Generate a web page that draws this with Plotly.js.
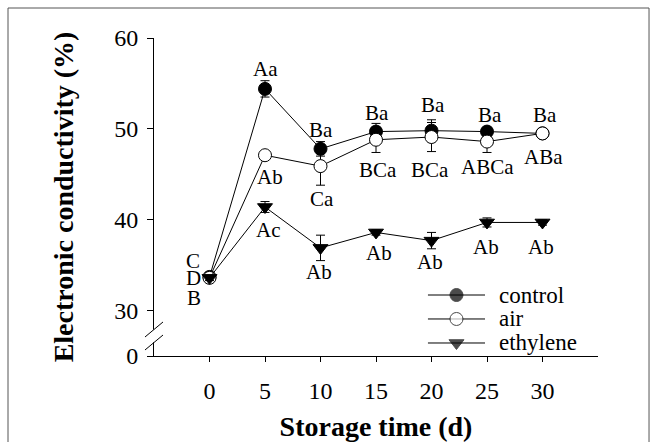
<!DOCTYPE html>
<html>
<head>
<meta charset="utf-8">
<script src="https://cdn.plot.ly/plotly-3.0.1.min.js"></script>
<style>
  html, body { margin: 0; padding: 0; background: #ffffff; }
  #chart { width: 657px; height: 442px; }
</style>
</head>
<body>
<div id="chart"></div>
<script>
// ---- data ----
const days = [0, 5, 10, 15, 20, 25, 30];

const control    = [33.7, 54.4, 47.8, 49.7, 49.8, 49.7, 49.5];
const controlErr = [0.3, 0.9, 0.8, 0.9, 1.2, 0.5, 0.3];

const air    = [33.6, 47.1, 45.9, 48.8, 49.1, 48.6, 49.5];
const airErr = [0.3, 0.4, 2.1, 1.4, 1.6, 1.2, 0.3];

const ethylene    = [33.6, 41.4, 36.9, 38.6, 37.7, 39.7, 39.7];
const ethyleneErr = [0.3, 0.6, 1.4, 0.3, 0.9, 0.5, 0.3];

// significance letters
const controlLetters  = ["C", "Aa", "Ba", "Ba", "Ba", "Ba", "Ba"];
const airLetters      = ["D", "Ab", "Ca", "BCa", "BCa", "ABCa", "ABa"];
const ethyleneLetters = ["B", "Ac", "Ab", "Ab", "Ab", "Ab", "Ab"];

// letter label anchor points (data units)
const controlLabelX  = [-1.45, 5.0, 10.0, 15.1, 20.1, 25.3, 30.2];
const controlLabelY  = [35.5, 56.6, 49.9, 51.7, 52.6, 51.5, 51.5];
const airLabelX      = [-1.45, 5.45, 10.1, 15.2, 19.9, 25.0, 30.1];
const airLabelY      = [33.6, 44.7, 42.3, 45.5, 45.5, 45.8, 46.9];
const ethyleneLabelX = [-1.4, 5.3, 9.9, 15.3, 19.9, 24.9, 29.9];
const ethyleneLabelY = [31.4, 38.9, 34.2, 36.3, 35.3, 37.0, 37.0];

// y-axis ticks (axis is broken between 0 and 30)
const yTickVals = [25, 30, 40, 50, 60];
const yTickText = ["0", "30", "40", "50", "60"];
const xTickVals = [0, 5, 10, 15, 20, 25, 30];

const seriesNames = ["control", "air", "ethylene"];

// ---- drawing ----
const FONT = "Liberation Serif";

const styles = [
  { symbol: "circle", fill: "#000" },
  { symbol: "circle", fill: "#fff" },
  { symbol: "triangle-down", fill: "#000" }
];

function series(i, y, err) {
  return {
    type: "scatter", mode: "lines+markers", name: seriesNames[i], showlegend: false,
    x: days, y: y,
    line: { color: "#000", width: 1 },
    marker: { symbol: styles[i].symbol, size: 13, color: styles[i].fill, line: { color: "#000", width: 1 } },
    error_y: { type: "data", array: err, visible: true, color: "#000", thickness: 1, width: 4.5 },
    cliponaxis: false
  };
}

const traces = [
  series(0, control, controlErr),
  series(1, air, airErr),
  series(2, ethylene, ethyleneErr)
];

// legend keys drawn on an overlay axis in [0,1] units (legend box, not data)
const legendLine = { x0: 0.617, x1: 0.7455 };
const legendRowY = [0.1918, 0.1164, 0.0409];
const legendTextX = 0.775;
seriesNames.forEach((nm, i) => {
  const mid = (legendLine.x0 + legendLine.x1) / 2;
  traces.push({
    type: "scatter", mode: "lines+markers", showlegend: false, hoverinfo: "skip",
    xaxis: "x2", yaxis: "y2",
    x: [legendLine.x0, mid, legendLine.x1], y: [legendRowY[i], legendRowY[i], legendRowY[i]],
    line: { color: "#000", width: 1 },
    marker: { symbol: styles[i].symbol, size: [0, 13, 0], color: styles[i].fill,
              line: { color: "#000", width: [0, 1, 0] } },
    cliponaxis: false
  });
});

const annotations = [];
function addLabels(xs, ys, texts) {
  texts.forEach((t, i) => annotations.push({
    x: xs[i], y: ys[i], xref: "x", yref: "y", text: t, showarrow: false,
    xanchor: "center", yanchor: "middle", borderpad: 0,
    font: { family: FONT, size: 21, color: "#000" }
  }));
}
addLabels(controlLabelX, controlLabelY, controlLetters);
addLabels(airLabelX, airLabelY, airLetters);
addLabels(ethyleneLabelX, ethyleneLabelY, ethyleneLetters);

seriesNames.forEach((nm, i) => annotations.push({
  x: legendTextX, y: legendRowY[i], xref: "paper", yref: "paper", text: nm, showarrow: false,
  xanchor: "left", yanchor: "middle", borderpad: 0,
  font: { family: FONT, size: 23, color: "#000" }
}));

const shapes = [
  // axis-break gap and slashes
  { type: "rect", xref: "paper", yref: "paper", x0: -0.01, x1: 0.01, y0: 0.043, y1: 0.083,
    fillcolor: "#fff", line: { width: 0 }, layer: "above" },
  { type: "line", xref: "paper", yref: "paper", x0: -0.0203, y0: 0.0597, x1: 0.0203, y1: 0.107,
    line: { color: "#000", width: 1 } },
  { type: "line", xref: "paper", yref: "paper", x0: -0.0203, y0: 0.0189, x1: 0.0203, y1: 0.066,
    line: { color: "#000", width: 1 } },
  // figure frame
  { type: "line", xref: "paper", yref: "paper", x0: -0.3288, y0: 1.0943, x1: 1.1149, y1: 1.0943,
    line: { color: "#555", width: 1 } },
  { type: "line", xref: "paper", yref: "paper", x0: -0.3288, y0: 1.0943, x1: -0.3288, y1: -0.3,
    line: { color: "#555", width: 1 } },
  { type: "line", xref: "paper", yref: "paper", x0: 1.1149, y0: 1.0943, x1: 1.1149, y1: -0.3,
    line: { color: "#555", width: 1 } }
];

const layout = {
  width: 657, height: 442,
  margin: { l: 154, r: 59, t: 38, b: 86 },
  paper_bgcolor: "#fff", plot_bgcolor: "#fff",
  font: { family: FONT, color: "#000" },
  showlegend: false,
  xaxis: {
    range: [-5, 35], tickvals: xTickVals, ticks: "outside", ticklen: 5, tickwidth: 1,
    tickcolor: "#000", showline: true, linecolor: "#000", linewidth: 1,
    showgrid: false, zeroline: false, mirror: false, ticklabelstandoff: 8,
    tickfont: { family: FONT, size: 24, color: "#000" },
    title: { text: "<b>Storage time (d)</b>", font: { family: FONT, size: 28, color: "#000" }, standoff: 16 }
  },
  yaxis: {
    range: [25, 60], tickvals: yTickVals, ticktext: yTickText, ticks: "outside", ticklen: 6, tickwidth: 1,
    tickcolor: "#000", showline: true, linecolor: "#000", linewidth: 1,
    showgrid: false, zeroline: false, mirror: false, ticklabelstandoff: 4,
    tickfont: { family: FONT, size: 24, color: "#000" },
    title: { text: "<b>Electronic conductivity (%)</b>", font: { family: FONT, size: 28, color: "#000" }, standoff: 32 }
  },
  xaxis2: { overlaying: "x", range: [0, 1], visible: false, fixedrange: true },
  yaxis2: { overlaying: "y", range: [0, 1], visible: false, fixedrange: true },
  annotations: annotations,
  shapes: shapes
};

Plotly.newPlot("chart", traces, layout, { displayModeBar: false, staticPlot: true });
</script>
</body>
</html>
